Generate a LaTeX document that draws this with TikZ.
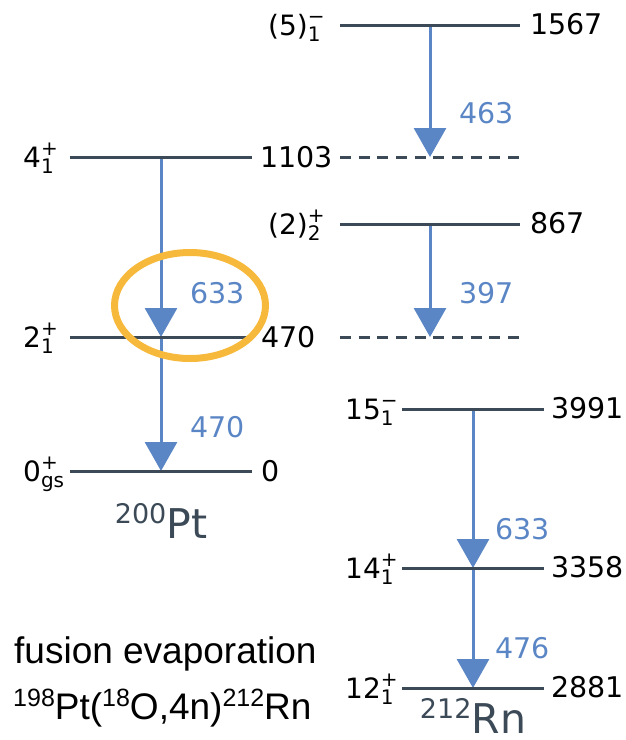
\documentclass[tikz,border=0pt]{standalone}
\usepackage{fontspec}
\setmainfont{DejaVu Sans}
\newfontfamily\reacfont{Liberation Sans}
\usetikzlibrary{arrows.meta}
\definecolor{cLevel}{HTML}{3B4A56}
\definecolor{cGamma}{HTML}{5B86C5}
\definecolor{cMark}{HTML}{F7B93C}
% spin-parity with stacked sub/superscript
\newcommand{\jpi}[3]{#1{\fontsize{20}{20}\selectfont
  \setbox0=\hbox{\raisebox{-6pt}{#2}}\setbox2=\hbox{\raisebox{12pt}{#3}}%
  \ifdim\wd0>\wd2 \rlap{\box2}\box0\else\rlap{\box0}\box2\fi}}
\newcommand{\isot}[2]{{\fontsize{27}{27}\selectfont\raisebox{15pt}{#1}}#2}
\newcommand{\rsup}[1]{{\fontsize{25}{25}\selectfont\raisebox{12.5pt}{#1}}}

\begin{document}
\begin{tikzpicture}[
    x=1pt, y=-1pt,
    lvl/.style={draw=cLevel, line width=3pt},
    lvldash/.style={lvl, dash pattern=on 11pt off 7.67pt},
    gam/.style={draw=cGamma, line width=3pt, -{Triangle[length=29pt,width=32pt]}},
    spinlab/.style={anchor=base west, inner sep=0pt, font=\fontsize{28}{28}\selectfont},
    enlab/.style={anchor=base west, inner sep=0pt, font=\fontsize{28.5}{28.5}\selectfont},
    gamlab/.style={anchor=base west, inner sep=0pt, text=cGamma, font=\fontsize{28.5}{28.5}\selectfont},
    nucl/.style={anchor=base, inner sep=0pt, text=cLevel, font=\fontsize{41}{41}\selectfont},
    reac/.style={anchor=base west, inner sep=0pt, font=\reacfont\fontsize{37}{37}\selectfont}
]
\useasboundingbox (0,0) rectangle (626,740);

% level centres
\coordinate (pt4) at (161,157);
\coordinate (pt2) at (161,337);
\coordinate (pt0) at (161,471);
\coordinate (rn5) at (430,25);
\coordinate (rnA) at (430,157);
\coordinate (rn2) at (430,224);
\coordinate (rnB) at (430,337);
\coordinate (rn15) at (473,409);
\coordinate (rn14) at (473,568);
\coordinate (rn12) at (473,688);

% gamma transitions
\draw[gam] (pt4) -- (pt2);
\draw[gam] (pt2) -- (pt0);
\draw[gam] (rn5) -- (rnA);
\draw[gam] (rn2) -- (rnB);
\draw[gam] (rn15) -- (rn14);
\draw[gam] (rn14) -- (rn12);

% levels
\foreach \l in {pt4,pt2,pt0}
  \draw[lvl] ([xshift=-91pt]\l) -- ([xshift=91pt]\l);
\foreach \l in {rn5,rn2}
  \draw[lvl] ([xshift=-90pt]\l) -- ([xshift=90pt]\l);
\foreach \l in {rnA,rnB}
  \draw[lvldash] ([xshift=-90pt]\l) -- ([xshift=90pt]\l);
\foreach \l in {rn15,rn14,rn12}
  \draw[lvl] ([xshift=-71pt]\l) -- ([xshift=71pt]\l);

% 200Pt
\node[spinlab] (pt4j) at (23,167) {\jpi{4}{1}{+}};
\node[spinlab] (pt2j) at (23,347) {\jpi{2}{1}{+}};
\node[spinlab] (pt0j) at (23,481) {\jpi{0}{gs}{+}};
\node[enlab] (pt4e) at (260,167) {1103};
\node[enlab] (pt2e) at (261,347) {470};
\node[enlab] (pt0e) at (261,481) {0};
\node[gamlab] (g633) at (190,303) {633};
\node[gamlab] (g470) at (190,437) {470};
\node[nucl] (ptname) at (161,538) {\isot{200}{Pt}};

% 212Rn, low spin
\node[spinlab] (rn5j) at (268,35) {\jpi{(5)}{1}{−}};
\node[spinlab] (rn2j) at (268,234) {\jpi{(2)}{2}{+}};
\node[enlab] (rn5e) at (530,34) {1567};
\node[enlab] (rn2e) at (530,233) {867};
\node[gamlab] (g463) at (459,123) {463};
\node[gamlab] (g397) at (459,303) {397};

% 212Rn, high spin
\node[spinlab] (rn15j) at (345,419) {\jpi{15}{1}{−}};
\node[spinlab] (rn14j) at (345,578) {\jpi{14}{1}{+}};
\node[spinlab] (rn12j) at (345,698) {\jpi{12}{1}{+}};
\node[enlab] (rn15e) at (551,418) {3991};
\node[enlab] (rn14e) at (551,577) {3358};
\node[enlab] (rn12e) at (551,697) {2881};
\node[gamlab] (g633b) at (495,539) {633};
\node[gamlab] (g476) at (495,658) {476};
\node[nucl] (rnname) at (473,733) {\isot{212}{Rn}};

% reaction
\node[reac] (reac1) at (14,663) {fusion evaporation};
\node[reac] (reac2) at (13,719) {\rsup{198}Pt(\rsup{18}O,4n)\rsup{212}Rn};

% highlight
\draw[cMark, line width=7pt] (190,305.5) ellipse [x radius=75.5pt, y radius=53pt];
\end{tikzpicture}
\end{document}
